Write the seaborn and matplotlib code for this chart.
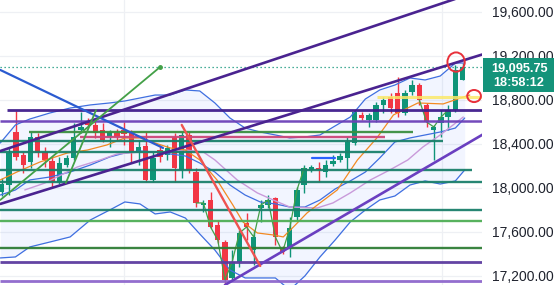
import matplotlib
matplotlib.use("Agg")
import matplotlib.pyplot as plt
import seaborn as sns
import pandas as pd
from matplotlib.patches import Ellipse, Rectangle

# ---------------- data ----------------
opens = [17964,18027,18509,18300,18236,18464,18327,18245,18055,18209,18273,18527,18600,18573,18527,18464,
         18500,18527,18500,18327,18382,18073,18345,18300,18464,18164,18482,18145,17845,17891,17664,17509,
         17182,17327,17682,17436,17818,17845,17909,17455,17464,17736,18027,18164,18182,18145,18218,18255,
         18273,18409,18664,18618,18618,18755,18827,18864,18682,18873,18936,18755,18527,18591,18645,18709,18982]
highs = [18091,18373,18700,18327,18509,18500,18373,18282,18282,18300,18591,18691,18636,18618,18591,18527,
         18536,18600,18527,18436,18509,18327,18391,18391,18500,18509,18509,18182,17891,17964,17709,17527,
         17436,17618,17773,17618,17891,17936,17918,17473,17736,18009,18209,18209,18236,18255,18300,18318,
         18464,18709,18691,18682,18782,18827,18864,19009,18891,18982,18954,18773,18573,18709,18755,19118,19136]
lows = [17927,17936,18255,18136,18182,18282,18191,18009,18036,18191,18255,18500,18545,18455,18418,18373,
        18436,18391,18236,18209,18055,18055,18236,18255,18055,18091,18136,17827,17782,17636,17500,17125,
        17155,17282,17527,17300,17691,17818,17482,17400,17373,17709,17955,18145,18055,18100,18200,18236,
        18164,18391,18618,18555,18600,18682,18682,18645,18664,18845,18755,18555,18255,18464,18527,18691,18982]
closes = [18036,18318,18282,18209,18464,18318,18255,18055,18227,18273,18464,18555,18573,18500,18436,18509,
          18464,18491,18327,18373,18073,18273,18282,18364,18182,18482,18164,17864,17864,17645,17527,17164,
          17327,17591,17645,17555,17845,17891,17555,17418,17636,17982,18182,18191,18164,18209,18245,18291,
          18418,18691,18636,18664,18755,18800,18727,18682,18864,18936,18800,18600,18555,18645,18709,19073,19095.75]

bb_x = [-0.2,1.9,3.9,6.7,9.5,12.3,15.0,17.1,19.2,21.3,23.4,25.5,27.5,29.6,31.7,33.8,35.9,38.0,40.0,42.1,
        44.2,46.3,48.4,50.5,52.5,54.6,56.7,58.8,60.9,63.0,64.3]
bb_upper = [18409,18573,18627,18682,18727,18755,18773,18791,18818,18845,18845,18891,18882,18773,18636,18545,
            18509,18482,18455,18464,18482,18564,18645,18809,18891,18936,19000,18982,19018,19136,19136]
bb_mid = [17936,17982,18073,18100,18145,18209,18282,18318,18336,18327,18309,18291,18227,18145,18027,17936,
          17873,17855,17827,17827,17891,17991,18064,18145,18273,18418,18455,18482,18509,18545,18636]
bb_lower = [17364,17373,17464,17509,17555,17709,17800,17873,17855,17764,17782,17727,17582,17436,17254,17182,
            17182,17182,17073,17200,17373,17527,17691,17800,17891,17927,18027,18064,18036,18064,18164]

ema_x = [-0.2,2.1,5.3,9.1,11.9,14.6,17.1,19.2,21.3,23.4,25.5,27.5,29.9,32.1,33.5,35.5,37.7,39.1,40.5,42.4,
         44.2,46.6,49.4,52.1,54.4,57.8,61.3,63.7,65.0]
ema_y = [18073,18145,18236,18318,18345,18391,18455,18455,18409,18364,18345,18255,18073,17845,17691,17591,
         17573,17555,17645,17773,17864,17982,18255,18455,18664,18773,18764,18818,18845]

sma_x = [3.2,6.0,10.5,13.7,16.0,19.2,22.7,25.5,28.0,29.6,32.7,35.5,37.7,40.0,43.8,46.0,48.4,51.2,53.9,56.4,
         58.5,60.9,64.1]
sma_y = [17982,18045,18191,18255,18309,18327,18327,18345,18327,18255,18073,17955,17891,17827,17818,17864,
         17955,18073,18164,18255,18373,18482,18645]

# horizontal drawings: level, start index, end index, colour, width
h_levels = [18709, 18609, 18509, 18459, 18427, 18327, 18164, 18055, 17800, 17700, 17455, 17327, 17155, 18827]
h_start = [0.7, -0.3, 3.8, 10.9, -0.3, -0.3, -0.3, -0.3, -0.3, -0.3, -0.3, -0.3, -0.3, 52.1]
h_end = [66.8, 66.8, 57.1, 53.2, 61.3, 53.2, 65.3, 66.8, 66.8, 66.8, 66.8, 66.8, 66.8, 66.8]
h_colors = ["#3f1c8c", "#6c40b8", "#3b8f40", "#cc4778", "#1b806b", "#1b806b", "#1b806b", "#1b806b",
            "#1b806b", "#4fae55", "#2f7d35", "#5b3a9e", "#8d66cc", "#fbe96a"]
h_widths = [2.0, 1.8, 1.7, 1.7, 1.7, 1.7, 1.7, 1.7, 1.7, 1.7, 1.7, 2.0, 2.0, 2.2]

# trend lines: (x0, x1), (y0, y1), colour, width
trend_lines = {
    "channel_upper": ([-0.2, 66.7], [18336, 19800], "#4a2390", 1.9),
    "channel_mid": ([-0.2, 66.7], [17855, 19213], "#4a2390", 1.9),
    "support": ([31.0, 66.8], [17118, 18486], "#6a3fc0", 1.9),
    "blue_down": ([-0.2, 22.4], [19073, 18364], "#2b5bd0", 1.6),
    "green_up": ([-0.2, 22.0], [17891, 19100], "#43a047", 1.3),
    "green_steep": ([8.9, 13.1], [18045, 18709], "#43a047", 1.3),
    "red_down": ([25.0, 35.9], [18573, 17291], "#ef5350", 1.7),
    "blue_flat": ([43.1, 46.3], [18273, 18273], "#2962ff", 1.6),
}
close_line_ranges = [(27, 42), (58, 62)]

last_price = 19095.75
price_text = "19,095.75"
timer_text = "18:58:12"
circles = [(63.1, 19145, 2.4, 175), (65.6, 18836, 1.9, 110)]
tick_values = [17200, 17600, 18000, 18400, 18800, 19200, 19600]

# ---------------- figure ----------------
sns.set_theme(style="white")
plt.rcParams["font.family"] = ["Liberation Sans", "DejaVu Sans"]

fig = plt.figure(figsize=(5.57, 2.85), dpi=100)
fig.patch.set_facecolor("white")
ax = fig.add_axes([0, 0, 482 / 557, 1])
ax.set_facecolor("white")

ax.set_xlim(-0.24, 66.7)
ax.set_ylim(17118, 19709)

# grid
for t in tick_values:
    ax.axhline(t, color="#eef0f4", lw=0.9, zorder=0)
for gx in [17.0, 61.1]:
    ax.axvline(gx, color="#eef0f4", lw=0.9, zorder=0)

# Bollinger fill
ax.fill_between(bb_x, bb_lower, bb_upper, color="#2962ff", alpha=0.06, lw=0, zorder=1)

# candles
df = pd.DataFrame({"i": range(len(opens)), "o": opens, "h": highs, "l": lows, "c": closes})
df["up"] = df["c"] >= df["o"]
up_col, dn_col = "#0f9478", "#f23645"
cols = [up_col if u else dn_col for u in df["up"]]
ax.vlines(df["i"], df["l"], df["h"], colors=cols, lw=1.0, zorder=3)
body_bottom = df[["o", "c"]].min(axis=1)
body_h = (df["c"] - df["o"]).abs().clip(lower=10)
ax.bar(df["i"], body_h, bottom=body_bottom, width=0.74, color=cols, lw=0, zorder=4)

# indicators
sns.lineplot(x=bb_x, y=bb_upper, ax=ax, color="#3f6fe0", lw=0.9, sort=False, estimator=None, zorder=5)
sns.lineplot(x=bb_x, y=bb_mid, ax=ax, color="#3f6fe0", lw=0.9, sort=False, estimator=None, zorder=5)
sns.lineplot(x=bb_x, y=bb_lower, ax=ax, color="#3f6fe0", lw=0.9, sort=False, estimator=None, zorder=5)
sns.lineplot(x=sma_x, y=sma_y, ax=ax, color="#c99ada", lw=1.0, sort=False, estimator=None, zorder=5)
sns.lineplot(x=ema_x, y=ema_y, ax=ax, color="#f28a22", lw=0.9, sort=False, estimator=None, zorder=5)

for a, b in close_line_ranges:
    seg = df[(df["i"] >= a) & (df["i"] <= b)]
    sns.lineplot(x=seg["i"], y=seg["c"], ax=ax, color="#43a047", lw=0.9, sort=False, estimator=None, zorder=5)

# horizontal drawings
for lv, s, e, c, w in zip(h_levels, h_start, h_end, h_colors, h_widths):
    ax.hlines(lv, s, e, colors=c, lw=w, zorder=6, alpha=0.95 if c != "#fbe96a" else 0.85)

# trend lines
for name, (xs, ys, c, w) in trend_lines.items():
    sns.lineplot(x=xs, y=ys, ax=ax, color=c, lw=w, sort=False, estimator=None, zorder=7)
gx, gy = trend_lines["green_up"][0], trend_lines["green_up"][1]
ax.plot(gx[1], gy[1], "o", color="#43a047", ms=2.5, zorder=7)

# last price dotted line
ax.axhline(last_price, color="#0f9478", lw=0.9, ls=(0, (1, 2.2)), zorder=6)

# hand drawn circles
for cx, cy, w, h in circles:
    ax.add_patch(Ellipse((cx, cy), w, h, fill=False, ec="#e8303a", lw=1.4, zorder=8, clip_on=False))

# axis styling
for sp in ax.spines.values():
    sp.set_visible(False)
ax.set_xticks([])
ax.yaxis.tick_right()
ax.set_yticks(tick_values)
ax.set_yticklabels([f"{t:,.2f}" for t in tick_values])
ax.tick_params(axis="y", length=0, pad=7.0, labelsize=10.0, labelcolor="#1e222d")
ax.set_xlabel("")
ax.set_ylabel("")
ax.grid(False)
leg = ax.get_legend()
if leg:
    leg.remove()

# price label box
fig.patches.append(Rectangle((483 / 557, (285 - 92) / 285), 71 / 557, 34 / 285,
                             transform=fig.transFigure, facecolor="#14937a", edgecolor="none", zorder=10))
fig.text(519 / 557, 1 - 69 / 285, price_text, color="white", fontsize=9.2, fontweight="bold",
         ha="center", va="center", zorder=11)
fig.text(519 / 557, 1 - 83 / 285, timer_text, color="white", fontsize=9.2, fontweight="bold",
         ha="center", va="center", zorder=11)

fig.savefig("out.png", dpi=100)
